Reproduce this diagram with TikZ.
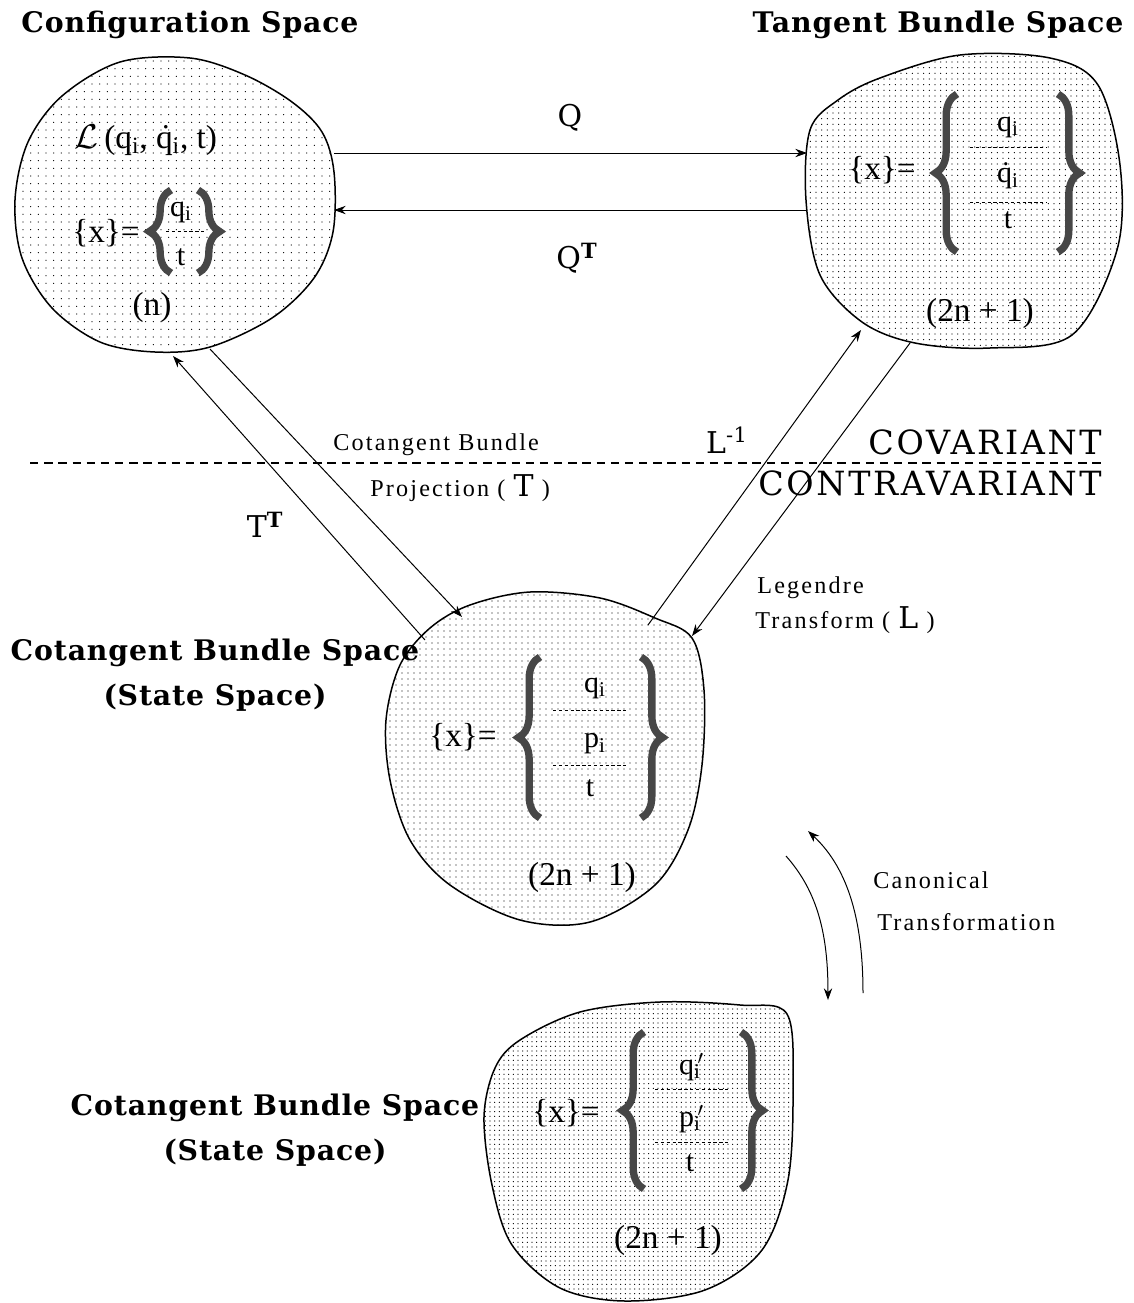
\documentclass[tikz,border=0pt]{standalone}
\usepackage{fontspec}
\setmainfont{Liberation Serif}
\newfontfamily\titlefont[LetterSpace=3]{DejaVu Serif}
\newfontfamily\capsfont[LetterSpace=8]{DejaVu Serif}
\newfontfamily\lblfont[LetterSpace=9]{Liberation Serif}
\usetikzlibrary{patterns.meta,arrows.meta,decorations.pathreplacing}

% dotted q and primes used in the state vectors
\newcommand\qd{\.{q}}
\newcommand\sbi{\textsubscript{i}}
\newcommand\prm{\rlap{\textsuperscript{\,$\prime$}}}

\tikzset{
  title/.style={font=\titlefont\bfseries\fontsize{17}{27}\selectfont, inner sep=0pt, align=center},
  bigsym/.style={font=\titlefont\fontsize{18}{20}\selectfont, inner sep=0pt},
  capsty/.style={font=\capsfont\fontsize{20}{22}\selectfont, inner sep=0pt},
  small/.style={font=\lblfont\fontsize{14.5}{16}\selectfont, inner sep=0pt},
  blobtxt/.style={font=\fontsize{20}{22}\selectfont, inner sep=0pt},
  rowtxt/.style={font=\fontsize{18}{20}\selectfont, inner sep=0pt},
  blobline/.style={draw=black, line width=0.9pt},
  sep/.style={draw=black, line width=0.5pt, dash pattern=on 2pt off 1.5pt},
  bracesty/.style={draw=black!72, line width=4.4pt, decorate, decoration={brace, amplitude=13pt}},
  conn/.style={draw=black, line width=0.6pt, -{Stealth[length=7pt,width=5pt]}},
  divider/.style={draw=black, line width=0.8pt, dash pattern=on 5pt off 3.5pt},
}

\begin{document}
\begin{tikzpicture}[x=0.6pt,y=-0.6pt]
\useasboundingbox (0,0) rectangle (1134,1303);

% ---------- regions ----------
% configuration space
\draw[blobline, pattern={Dots[distance=4.6pt,radius=0.38pt]}]
  plot[smooth cycle, tension=0.55] coordinates {
  (120,62) (190,58) (245,75) (292,102) (322,132) (334,172) (333,232) (314,278)
  (272,318) (210,347) (155,352) (100,342) (52,308) (22,258) (15,200) (28,142) (62,96)};
% tangent bundle space
\draw[blobline, pattern={Dots[distance=3.4pt,radius=0.36pt]}]
  plot[smooth cycle, tension=0.55] coordinates {
  (880,78) (960,55) (1050,58) (1098,85) (1120,165) (1117,250) (1072,335) (990,348)
  (915,343) (862,322) (820,275) (806,200) (810,130) (838,100)};
% cotangent bundle space
\draw[blobline, pattern={Dots[distance=3.6pt,radius=0.36pt]}]
  plot[smooth cycle, tension=0.55] coordinates {
  (430,628) (470,605) (530,592) (600,598) (655,618) (692,638) (704,690) (702,765)
  (688,830) (655,885) (590,922) (520,920) (450,885) (410,840) (390,780) (386,720) (400,665)};
% transformed cotangent bundle space
\draw[blobline, pattern={Dots[distance=2.8pt,radius=0.36pt]}]
  plot[smooth cycle, tension=0.55] coordinates {
  (520,1040) (580,1012) (660,1002) (740,1005) (787,1014) (793,1090) (788,1180) (762,1250)
  (705,1290) (625,1301) (560,1288) (512,1245) (492,1185) (484,1117) (495,1068)};

% ---------- titles ----------
\node[title] (cfgT) at (190,25) {Configuration Space};
\node[title] (tanT) at (938,25) {Tangent Bundle Space};
\node[title] (cot1) at (215,675) {Cotangent Bundle Space\\(State Space)};
\node[title] (cot2) at (275,1130) {Cotangent Bundle Space\\(State Space)};

% ---------- configuration space contents ----------
\node[blobtxt] (lag) at (146,140) {$\mathcal{L}$\,(q\sbi, \qd\sbi, t)};
\node[blobtxt] (x1) at (106,233) {\{x\}=};
\node[rowtxt] (a1) at (181,212) {q\sbi};
\node[rowtxt] (a2) at (181,257) {t};
\draw[sep] (166,231) -- (204,231);
\draw[bracesty] (171,273) -- (171,190);
\draw[bracesty] (198,190) -- (198,273);
\node[blobtxt] (n1) at (152,307) {(n)};

% ---------- tangent bundle space contents ----------
\node[blobtxt] (x2) at (882,170) {\{x\}=};
\node[rowtxt] (b1) at (1008,127) {q\sbi};
\node[rowtxt] (b2) at (1008,176) {\qd\sbi};
\node[rowtxt] (b3) at (1008,220) {t};
\draw[sep] (970,147) -- (1047,147);
\draw[sep] (970,202) -- (1047,202);
\draw[bracesty] (957,252) -- (957,94);
\draw[bracesty] (1058,94) -- (1058,252);
\node[blobtxt] (n2) at (980,313) {(2n + 1)};

% ---------- cotangent bundle space contents ----------
\node[blobtxt] (x3) at (463,737) {\{x\}=};
\node[rowtxt] (c1) at (595,688) {q\sbi};
\node[rowtxt] (c2) at (595,744) {p\sbi};
\node[rowtxt] (c3) at (590,788) {t};
\draw[sep] (553,710) -- (628,710);
\draw[sep] (553,765) -- (628,765);
\draw[bracesty] (540,818) -- (540,657);
\draw[bracesty] (641,657) -- (641,818);
\node[blobtxt] (n3) at (582,877) {(2n + 1)};

% ---------- transformed space contents ----------
\node[blobtxt] (x4) at (566,1113) {\{x\}=};
\node[rowtxt] (d1) at (690,1067) {q\prm\sbi};
\node[rowtxt] (d2) at (690,1119) {p\prm\sbi};
\node[rowtxt] (d3) at (690,1163) {t};
\draw[sep] (655,1089) -- (730,1089);
\draw[sep] (655,1142) -- (730,1142);
\draw[bracesty] (644,1189) -- (644,1032);
\draw[bracesty] (741,1032) -- (741,1189);
\node[blobtxt] (n4) at (668,1240) {(2n + 1)};

% ---------- covariant / contravariant divide ----------
\coordinate (dl) at (30,463);
\coordinate (dr) at (1102,463);
\draw[divider] (dl) -- (dr);
\node[capsty, anchor=base east] (cov) at (1102,454) {COVARIANT};
\node[capsty, anchor=base east] (con) at (1102,495) {CONTRAVARIANT};

% ---------- mapping end points ----------
\coordinate (cfgQ) at (334,153);
\coordinate (tanQ) at (807,153);
\coordinate (tanQT) at (807,210);
\coordinate (cfgQT) at (334,210);
\coordinate (cfgP) at (210,349);
\coordinate (cotP) at (462,617);
\coordinate (cotT) at (425,640);
\coordinate (cfgT2) at (173,356);
\coordinate (cotL) at (648,625);
\coordinate (tanL) at (861,330);
\coordinate (tanLg) at (910,343);
\coordinate (cotLg) at (692,636);
\coordinate (caA) at (786,856);
\coordinate (caB) at (828,1000);
\coordinate (cbA) at (863,993);
\coordinate (cbB) at (808,831);

% ---------- mappings ----------
\draw[conn] (cfgQ) -- (tanQ);
\draw[conn] (tanQT) -- (cfgQT);
\draw[conn] (cfgP) -- (cotP);
\draw[conn] (cotT) -- (cfgT2);
\draw[conn] (cotL) -- (tanL);
\draw[conn] (tanLg) -- (cotLg);
\draw[conn] (caA) .. controls (818,892) and (828,935) .. (caB);
\draw[conn] (cbA) .. controls (863,925) and (850,870) .. (cbB);

% ---------- mapping labels ----------
\node[bigsym] (qlab) at (570,118) {Q};
\node[bigsym] (qtlab) at (577,258) {Q\textsuperscript{\bfseries T}};
\node[bigsym] (ttlab) at (265,525) {T\textsuperscript{\bfseries T}};
\node[bigsym] (lilab) at (727,440) {L\textsuperscript{-1}};
\node[small, anchor=west] (cbp1) at (333,445) {Cotangent Bundle};
\node[small, anchor=west] (cbp2) at (370,488) {Projection ( {\titlefont\fontsize{18}{18}\selectfont T} )};
\node[small, anchor=west] (leg1) at (757,588) {Legendre};
\node[small, anchor=west] (leg2) at (755,620) {Transform ( {\titlefont\fontsize{18}{18}\selectfont L} )};
\node[small, anchor=west] (can1) at (873,880) {Canonical};
\node[small, anchor=west] (can2) at (877,922) {Transformation};
\end{tikzpicture}
\end{document}
